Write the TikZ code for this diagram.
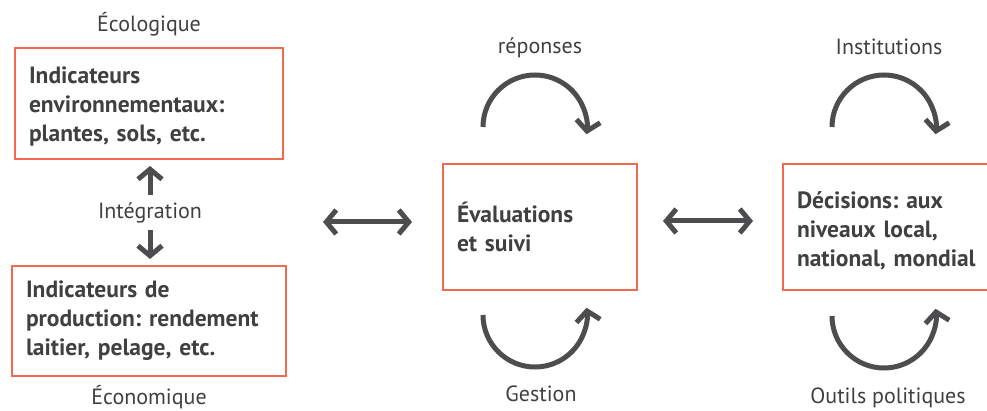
\documentclass[tikz,border=0pt]{standalone}
\usepackage{fontspec}
\setmainfont{PT Sans}
\usetikzlibrary{arrows.meta}
\definecolor{boxc}{RGB}{238,106,80}
\definecolor{txtc}{RGB}{64,64,65}
\definecolor{arrc}{RGB}{77,77,79}
\frenchspacing
\begin{document}
\begin{tikzpicture}[x=1pt,y=-1pt,
  box/.style={draw=boxc, line width=2.5pt, rectangle, inner xsep=14pt, inner ysep=0pt, align=left,
    font=\fontsize{23.5}{29}\selectfont\bfseries, text=txtc},
  lbl/.style={font=\fontsize{22}{26}\selectfont, text=txtc, anchor=base, inner sep=0pt},
  tipb/.tip={Straight Barb[length=10pt,width=24pt]},
  conn/.style={draw=arrc, line width=5pt, -tipb},
  dconn/.style={draw=arrc, line width=5pt, tipb-tipb},
]
\useasboundingbox (0,0) rectangle (987,411);
% boxes
\node[box, minimum width=268pt, minimum height=111pt, text width=240pt] (eco) at (149,103.5)
  {\rule{0pt}{22pt}Indicateurs\\environnementaux:\\plantes, sols, etc.};
\node[box, minimum width=274pt, minimum height=110pt, text width=246pt] (prod) at (149,321)
  {Indicateurs de\\production: rendement\\laitier, pelage, etc.};
\node[box, minimum width=194pt, minimum height=126pt, text width=166pt] (eval) at (540,227)
  {Évaluations\\et suivi};
\node[box, minimum width=214pt, minimum height=126pt, text width=186pt] (dec) at (890,227)
  {\rule{0pt}{25pt}Décisions: aux\\niveaux local,\\national, mondial};
% labels
\node[lbl] (lecol) at (149,32) {Écologique};
\node[lbl] (linteg) at (150,219) {Intégration};
\node[lbl] (lecon) at (149,404) {Économique};
\node[lbl] (lrep) at (540,54) {réponses};
\node[lbl] (lgest) at (541,401) {Gestion};
\node[lbl] (linst) at (889,55) {Institutions};
\node[lbl] (lout) at (888,403) {Outils politiques};
% vertical arrows
\coordinate (ua) at (150,195);
\coordinate (ub) at (150,166);
\coordinate (da) at (150,230);
\coordinate (db) at (150,259);
\draw[conn] (ua) -- (ub);
\draw[conn] (da) -- (db);
% double arrows
\coordinate (h1a) at (323,222);
\coordinate (h1b) at (412,222);
\coordinate (h2a) at (663,221);
\coordinate (h2b) at (753,221);
\draw[dconn] (h1a) -- (h1b);
\draw[dconn] (h2a) -- (h2b);
% loops
\coordinate (r1) at (483,127);
\coordinate (g1) at (483,315);
\coordinate (i1) at (832,127);
\coordinate (o1) at (832,316);
\draw[conn] (r1) arc[start angle=180, end angle=368, radius=52];
\draw[conn] (g1) arc[start angle=180, end angle=-8, radius=52];
\draw[conn] (i1) arc[start angle=180, end angle=368, radius=52];
\draw[conn] (o1) arc[start angle=180, end angle=-8, radius=52];
\end{tikzpicture}
\end{document}
